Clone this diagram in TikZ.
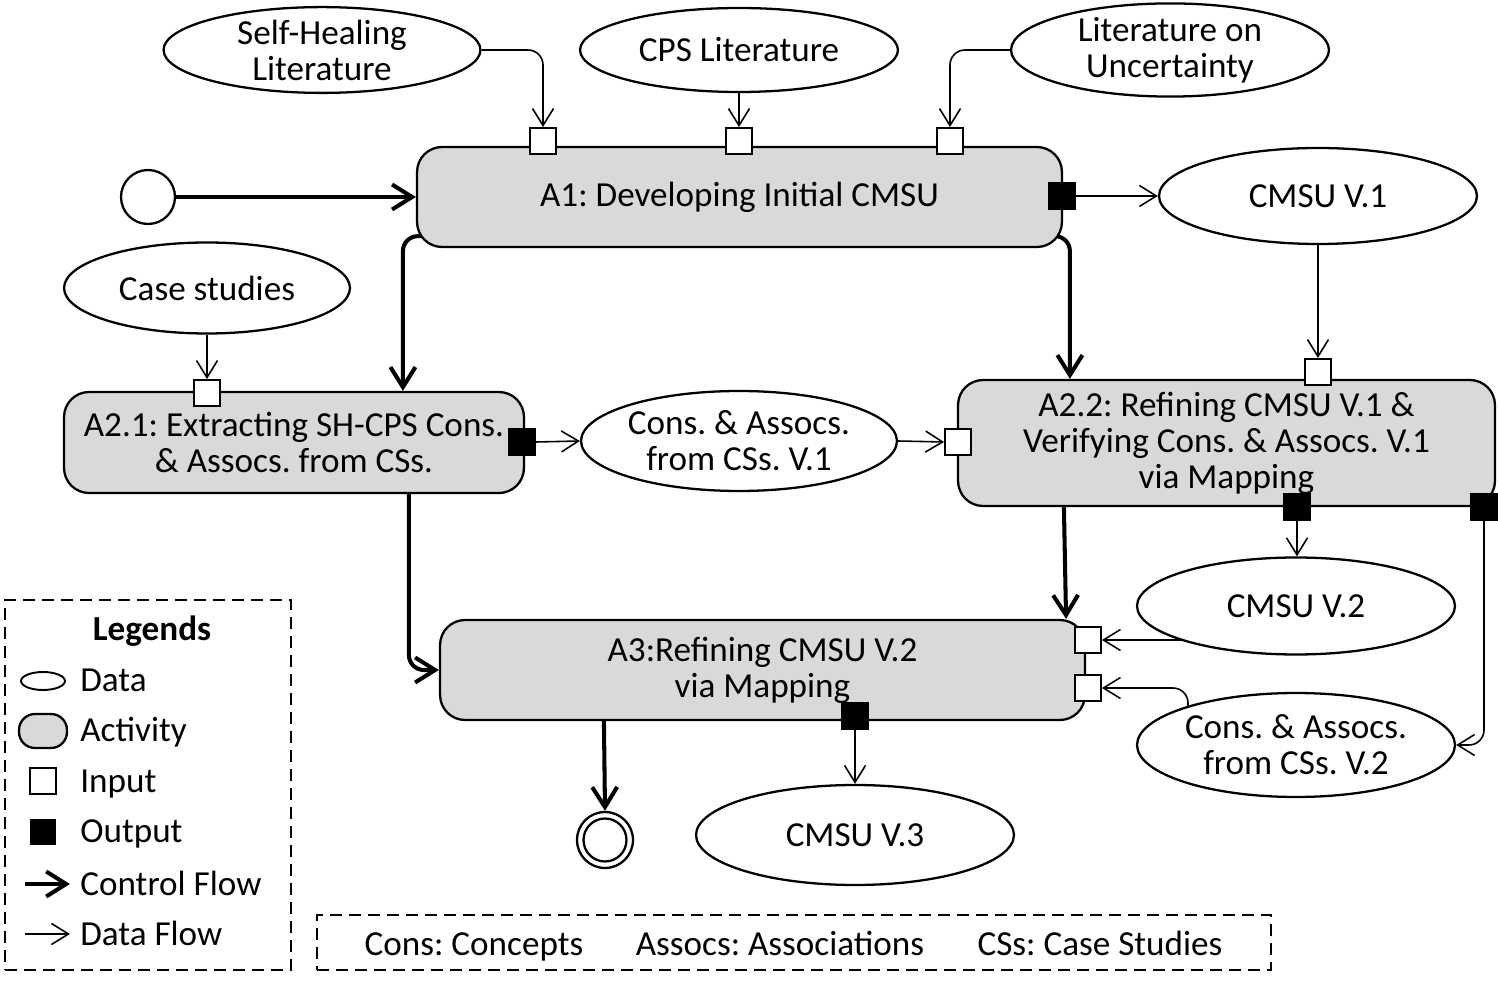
\documentclass[tikz,border=0pt]{standalone}
\usepackage{fontspec}
\setmainfont{Carlito}
\usetikzlibrary{arrows.meta,calc,shapes.geometric}
\pgfdeclarelayer{bg}
\pgfsetlayers{bg,main}
\definecolor{actgray}{HTML}{D9D9D9}
\frenchspacing
\begin{document}
\frenchspacing
\begin{tikzpicture}[x=0.02cm,y=-0.02cm,
  every node/.style={font=\fontsize{20}{20.5}\selectfont},
  act/.style={draw, line width=1.3pt, fill=actgray, rounded corners=0.5cm, align=center, inner sep=0},
  dat/.style={draw, ellipse, line width=1.3pt, fill=white, align=center, inner sep=0},
  pinin/.style={draw, line width=1.1pt, fill=white, minimum size=0.52cm, inner sep=0},
  pinout/.style={draw, line width=1.1pt, fill=black, minimum size=0.52cm, inner sep=0},
  data/.style={line width=0.9pt, -{Straight Barb[length=0.34cm,width=0.42cm]}},
  ctrl/.style={line width=2.3pt, -{Straight Barb[length=0.4cm,width=0.5cm]}},
  legbox/.style={draw, line width=0.9pt, dash pattern=on 0.24cm off 0.14cm},
  legtext/.style={anchor=base west, inner sep=0},
  abtext/.style={anchor=base, inner sep=0}
]
\useasboundingbox (0,0) rectangle (1498,982);

% start / end
\node[draw, circle, line width=1.3pt, fill=white, minimum size=1.08cm, inner sep=0] (start) at (148,197) {};
\node[draw, circle, line width=1.3pt, fill=white, minimum size=1.12cm, inner sep=0] (end) at (605,840) {};
\node[draw, circle, line width=1.3pt, minimum size=0.86cm, inner sep=0] (endin) at (605,840) {};

% activities
\node[act, minimum width=12.9cm, minimum height=2cm] (A1) at (739.5,197) {A1: Developing Initial CMSU};
\node[act, minimum width=9.2cm, minimum height=2.02cm] (A21) at (294,442.5) {A2.1: Extracting SH-CPS Cons.\\\& Assocs. from CSs.};
\node[act, minimum width=10.74cm, minimum height=2.52cm] (A22) at (1226.5,443) {A2.2: Refining CMSU V.1 \&\\Verifying Cons. \& Assocs. V.1\\via Mapping};
\node[act, minimum width=12.9cm, minimum height=2cm] (A3) at (762.5,670) {A3:Refining CMSU V.2\\via Mapping};

% data
\node[dat, minimum width=6.34cm, minimum height=1.68cm] (sh) at (322,50) {Self-Healing\\Literature};
\node[dat, minimum width=6.36cm, minimum height=1.68cm] (cps) at (739,50) {CPS Literature};
\node[dat, minimum width=6.36cm, minimum height=1.68cm] (unc) at (1170,50) {Literature on\\Uncertainty};
\node[dat, minimum width=6.36cm, minimum height=1.92cm] (cmsu1) at (1318,196) {CMSU V.1};
\node[dat, minimum width=5.72cm, minimum height=1.82cm] (case) at (207,288) {Case studies};
\node[dat, minimum width=6.32cm, minimum height=2.0cm] (cv1) at (739,441) {Cons. \& Assocs.\\from CSs. V.1};
\node[dat, minimum width=6.36cm, minimum height=1.94cm] (cmsu2) at (1296,606) {CMSU V.2};
\node[dat, minimum width=6.36cm, minimum height=2.08cm] (cv2) at (1296,745) {Cons. \& Assocs.\\from CSs. V.2};
\node[dat, minimum width=6.36cm, minimum height=2.0cm] (cmsu3) at (855,835) {CMSU V.3};

% pins
\node[pinin] (pA) at (543,141) {};
\node[pinin] (pB) at (739,141) {};
\node[pinin] (pC) at (950,141) {};
\node[pinout] (o1) at (1062,196) {};
\node[pinin] (pcase) at (207,393) {};
\node[pinout] (o21) at (522,442) {};
\node[pinin] (p22l) at (958,442) {};
\node[pinin] (p22t) at (1318,372) {};
\node[pinout] (o22a) at (1297,507) {};
\node[pinout] (o22b) at (1484,507) {};
\node[pinin] (p31) at (1088,640) {};
\node[pinin] (p32) at (1088,688) {};
\node[pinout] (o3) at (855,716) {};

% connectors
\begin{pgfonlayer}{bg}
\draw[ctrl] (start.east) -- (A1.west);
\draw[data] (o1.east) -- (cmsu1.west);
\draw[data, rounded corners=0.3cm] (sh.east) -| (pA.north);
\draw[data] (cps.south) -- (pB.north);
\draw[data, rounded corners=0.3cm] (unc.west) -| (pC.north);
\draw[ctrl, rounded corners=0.3cm] ($(A1.south west)+(12,-12)$) -| ($(A21.north west)+(340,0)$);
\draw[ctrl, rounded corners=0.3cm] ($(A1.south east)+(-12,-12)$) -| ($(A22.north west)+(113,0)$);
\draw[data] (case.south) -- (pcase.north);
\draw[data] (o21.east) -- (cv1.west);
\draw[data] (cv1.east) -- (p22l.west);
\draw[data] (cmsu1.south) -- (p22t.north);
\draw[ctrl, rounded corners=0.3cm] ($(A21.south west)+(346,0)$) |- (A3.west);
\draw[ctrl] ($(A22.south west)+(107,0)$) -- ($(A3.north east)+(-20,0)$);
\draw[data] (o22a.south) -- (cmsu2.north -| o22a.south);
\draw[data, rounded corners=0.3cm] (o22b.south) |- (cv2.east);
\draw[data] ($(p31.east)+(90,0)$) -- (p31.east);
\draw[data, rounded corners=0.3cm] ($(cv2.center)+(-108,-25)$) |- (p32.east);
\draw[data] (o3.south) -- (cmsu3.north);
\draw[ctrl] ($(A3.south west)+(165,0)$) -- (end.north);
\end{pgfonlayer}

% legend
\node[legbox, minimum width=5.72cm, minimum height=7.4cm, inner sep=0] (leg) at (148,785) {};
\node[font=\fontsize{20}{20.5}\selectfont\bfseries, anchor=base, inner sep=0] (legt) at (152,641) {Legends};
\node[draw, ellipse, line width=1.1pt, minimum width=0.88cm, minimum height=0.36cm, inner sep=0] (lgd) at (43,681) {};
\node[draw, line width=1.3pt, fill=actgray, rounded corners=0.32cm, minimum width=0.96cm, minimum height=0.68cm, inner sep=0] (lga) at (43,731) {};
\node[pinin] (lgi) at (43,781) {};
\node[pinout, minimum size=0.48cm] (lgo) at (43,832) {};
\coordinate (lgc1) at (25,884);
\coordinate (lgc2) at (70,884);
\coordinate (lgf1) at (25,934);
\coordinate (lgf2) at (70,934);
\draw[ctrl] (lgc1) -- (lgc2);
\draw[data] (lgf1) -- (lgf2);
\node[legtext] (t1) at (80,692) {Data};
\node[legtext] (t2) at (80,742) {Activity};
\node[legtext] (t3) at (80,792) {Input};
\node[legtext] (t4) at (80,843) {Output};
\node[legtext] (t5) at (80,895) {Control Flow};
\node[legtext] (t6) at (80,945) {Data Flow};

% abbreviations
\node[legbox, minimum width=19.08cm, minimum height=1.1cm, inner sep=0] (abbr) at (794,942.5) {};
\node[abtext] (ab1) at (474,955) {Cons: Concepts};
\node[abtext] (ab2) at (780,955) {Assocs: Associations};
\node[abtext] (ab3) at (1100,955) {CSs: Case Studies};
\end{tikzpicture}
\end{document}
